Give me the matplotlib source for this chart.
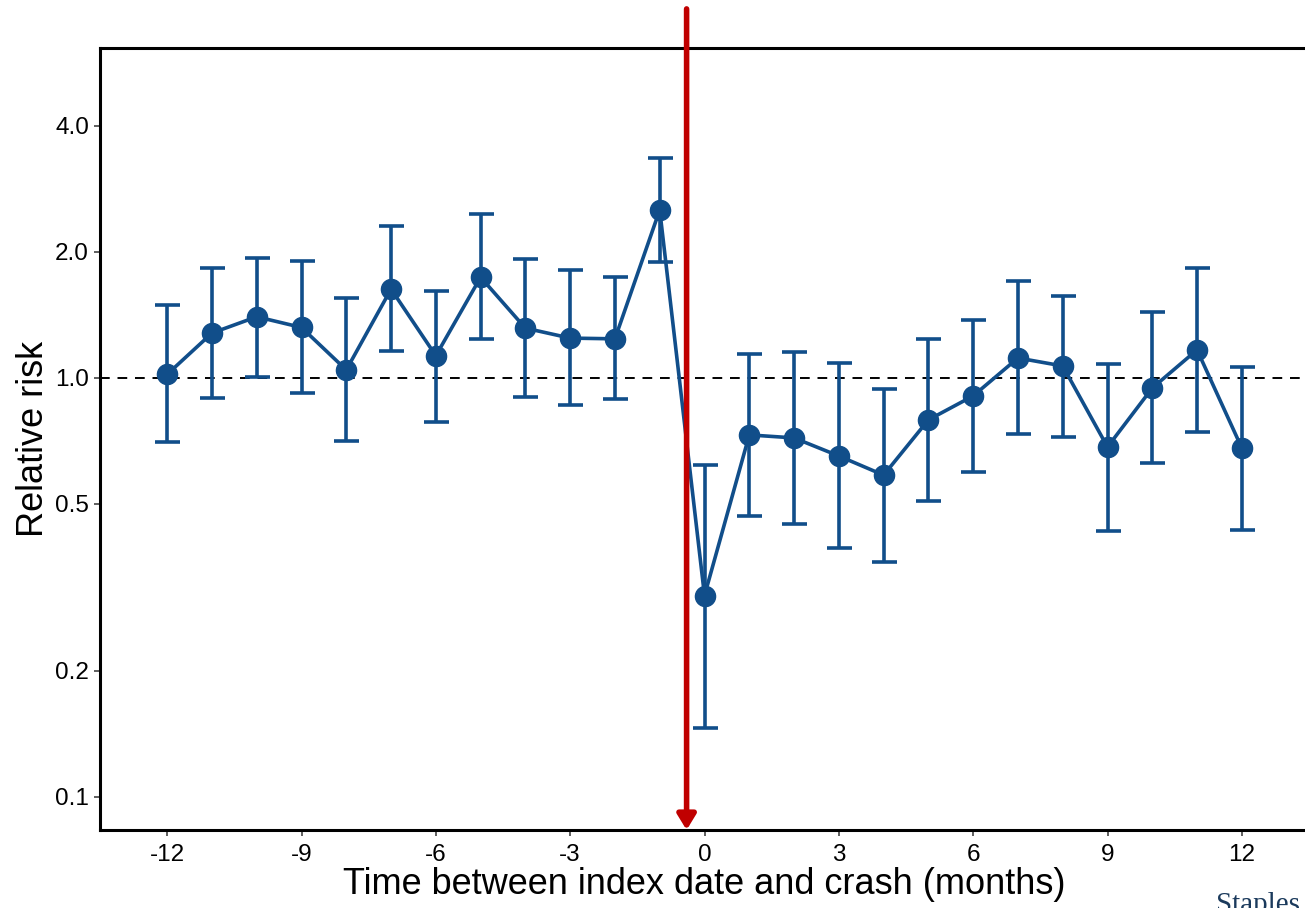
import matplotlib
matplotlib.use("Agg")
import matplotlib.pyplot as plt
import numpy as np

plt.rcParams["font.family"] = ["Liberation Sans", "DejaVu Sans"]

months = [-12, -11, -10, -9, -8, -7, -6, -5, -4, -3, -2, -1,
          0, 1, 2, 3, 4, 5, 6, 7, 8, 9, 10, 11, 12]
rr = [1.02, 1.28, 1.40, 1.32, 1.045, 1.63, 1.13, 1.74, 1.315, 1.245, 1.24, 2.52,
      0.302, 0.731, 0.719, 0.651, 0.586, 0.794, 0.906, 1.116, 1.068, 0.684, 0.946, 1.167, 0.68]
upper = [1.49, 1.83, 1.935, 1.90, 1.553, 2.31, 1.613, 2.465, 1.925, 1.81, 1.743, 3.35,
         0.62, 1.141, 1.154, 1.086, 0.941, 1.239, 1.376, 1.705, 1.57, 1.08, 1.438, 1.83, 1.062]
lower = [0.703, 0.896, 1.005, 0.921, 0.707, 1.16, 0.785, 1.239, 0.901, 0.862, 0.891, 1.893,
         0.146, 0.468, 0.448, 0.393, 0.364, 0.508, 0.596, 0.735, 0.723, 0.431, 0.627, 0.743, 0.434]
xticks = [-12, -9, -6, -3, 0, 3, 6, 9, 12]
yticks = [0.1, 0.2, 0.5, 1.0, 2.0, 4.0]
crash_x = -0.4

blue = "#114E8A"
red = "#C00000"

fig = plt.figure(figsize=(13.05, 9.08), dpi=100)
ax = fig.add_axes([100/1305, 1-830/908, 1209/1305, (830-48)/908])
ax.set_yscale("log")

rr_a = np.array(rr); up = np.array(upper); lo = np.array(lower)
ax.axhline(1.0, color="black", lw=1.4, ls=(0, (5, 4)), zorder=1)
ax.errorbar(months, rr_a, yerr=[rr_a - lo, up - rr_a], fmt="o-", color=blue,
            ms=14.5, lw=2.6, elinewidth=2.6, capsize=9, capthick=2.6, zorder=3)

ax.set_xlim(-13.5, 13.5)
ax.set_ylim(0.0832, 6.14)

ax.annotate("", xy=(crash_x, 0.0832), xycoords="data",
            xytext=(crash_x, 1.05), textcoords=("data", "axes fraction"),
            arrowprops=dict(arrowstyle="-|>,head_length=0.9,head_width=0.55",
                            color=red, lw=4.0, shrinkA=0, shrinkB=0),
            annotation_clip=False, zorder=5)

ax.set_xticks(xticks)
ax.set_xticklabels([str(t) for t in xticks])
ax.set_yticks(yticks)
ax.set_yticklabels([f"{t:.1f}" for t in yticks])
ax.minorticks_off()
ax.tick_params(axis="both", labelsize=17.5, length=4, width=1.1, colors="#333333",
               labelcolor="black")
ax.tick_params(axis="x", pad=6)
ax.tick_params(axis="y", pad=4)
for s in ["left", "bottom", "top", "right"]:
    ax.spines[s].set_linewidth(2.2)
    ax.spines[s].set_color("black")

ax.set_xlabel("Time between index date and crash (months)", fontsize=26, labelpad=1)
ax.set_ylabel("Relative risk", fontsize=26, labelpad=3)

fig.text(1300/1305, -0.004, "Staples", ha="right", va="baseline",
         fontsize=21, family="Liberation Serif", color="#1B3A5C")

fig.savefig("out.png", dpi=100)
